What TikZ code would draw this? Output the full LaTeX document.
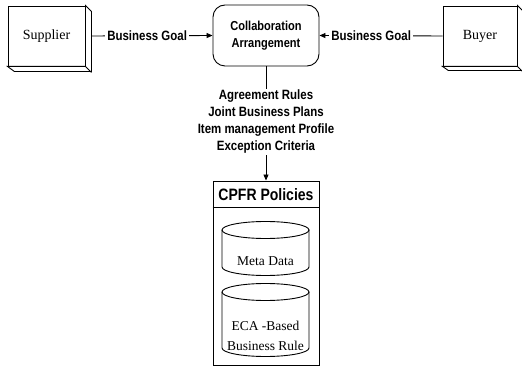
\documentclass[tikz,border=0pt]{standalone}
\usepackage{fontspec}
\setmainfont{Liberation Serif}
\newfontfamily\labelfont[FakeStretch=0.85]{Liberation Sans}
\usetikzlibrary{arrows.meta}

\begin{document}
\begin{tikzpicture}[x=1pt,y=1pt,
  line width=0.9pt,
  frontbox/.style={draw, minimum height=60pt, inner sep=0pt,
    font=\fontsize{14}{16}\selectfont},
  lbl/.style={font=\labelfont\bfseries\fontsize{13.5}{17}\selectfont,
    align=center, inner sep=1pt},
  goal/.style={lbl, fill=white, inner xsep=2pt},
  tip/.style={-{Triangle[length=6pt,width=5pt]}},
  drum/.style={font=\fontsize{13.5}{20}\selectfont, align=center, inner sep=0pt}
]
\useasboundingbox (0,0) rectangle (522,367);

% partner boxes with a bevelled edge on the right and bottom
\node[frontbox, minimum width=77pt] (sup) at (46.5,331) {Supplier};
\draw[fill=white] (sup.north east) -- ++(6,-6) -- ++(0,-60) -- ++(-77,0)
  -- (sup.south west) -- (sup.south east) -- cycle;
\draw (sup.south east) -- ++(6,-6);

\node[frontbox, minimum width=74pt] (buy) at (480,331) {Buyer};
\draw[fill=white] (buy.north east) -- ++(5,-5) -- ++(0,-60) -- ++(-74,0)
  -- (buy.south west) -- (buy.south east) -- cycle;
\draw (buy.south east) -- ++(5,-5);

% central arrangement
\node[draw, rounded corners=12pt, minimum width=106pt, minimum height=61pt,
  lbl, font=\labelfont\bfseries\fontsize{13}{17}\selectfont] (col) at (266,331.5)
  {Collaboration\\Arrangement};

\draw[tip] ([xshift=6pt]sup.east) -- node[goal, pos=0.46] (goalL) {Business Goal} (col.west);
\draw[tip] (buy.west) -- node[goal, pos=0.58] (goalR) {Business Goal} (col.east);

% agreement contents
\node[lbl] (rules) at (266,245)
  {Agreement Rules\\Joint Business Plans\\Item management Profile\\Exception Criteria};
\draw (col.south) -- (rules.north);

% policy container
\node[draw, minimum width=106pt, minimum height=184pt, inner sep=0pt] (pol) at (266,94) {};
\draw[tip] (rules.south) -- (pol.north);
\node[lbl, font=\labelfont\bfseries\fontsize{16.5}{17}\selectfont] (title) at (266,172) {CPFR Policies};
\draw ([yshift=-27pt]pol.north west) -- ([yshift=-27pt]pol.north east);

% data stores
\draw[fill=white] (222,137) -- (222,100)
  arc[start angle=180, end angle=360, x radius=43.5, y radius=8.5] -- (309,137);
\draw (265.5,137) ellipse [x radius=43.5, y radius=8.5];
\node[drum] (meta) at (265.5,106) {Meta Data};

\draw[fill=white] (222,75) -- (222,19)
  arc[start angle=180, end angle=360, x radius=43.5, y radius=8.5] -- (309,75);
\draw (265.5,75) ellipse [x radius=43.5, y radius=8.5];
\node[drum] (eca) at (265.5,31) {ECA -Based\\Business Rule};
\end{tikzpicture}
\end{document}
